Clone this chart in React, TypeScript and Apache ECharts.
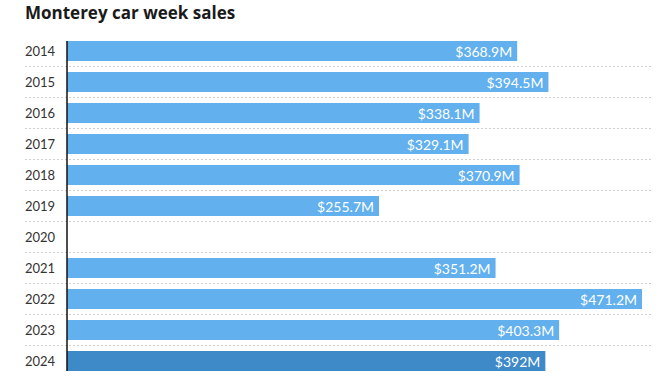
import React, { useEffect, useRef } from "react";
import * as echarts from "echarts";

const years = ["2014", "2015", "2016", "2017", "2018", "2019", "2020", "2021", "2022", "2023", "2024"];
const sales: (number | null)[] = [368.9, 394.5, 338.1, 329.1, 370.9, 255.7, null, 351.2, 471.2, 403.3, 392];
const highlightYear = "2024";

const LIGHT = "#62B0EE";
const DARK = "#3E89C8";
const FONT = "Lato, 'Open Sans', sans-serif";

export default function App() {
  const ref = useRef<HTMLDivElement>(null);
  useEffect(() => {
    if (!ref.current) return;
    const chart = echarts.init(ref.current, undefined, { renderer: "svg" });
    chart.setOption({
      animation: false,
      title: {
        text: "Monterey car week sales",
        left: 25,
        top: 4,
        padding: 0,
        textStyle: { fontFamily: "'Open Sans', sans-serif", fontSize: 17, fontWeight: "bold", color: "#1a1a1a" },
      },
      grid: [
        { left: 67, right: 18, top: 35.5, height: 341 },
        { left: 25, right: 7, top: 35.5, height: 341 },
      ],
      xAxis: [
        { type: "value", gridIndex: 0, min: 0, max: "dataMax", show: false },
        { type: "value", gridIndex: 1, min: 0, max: 1, show: false },
      ],
      yAxis: [
        {
          type: "category",
          gridIndex: 0,
          data: years,
          inverse: true,
          axisLine: { show: false },
          axisTick: { show: false },
          splitLine: { show: false },
          axisLabel: {
            align: "left",
            margin: 42,
            fontFamily: FONT,
            fontSize: 13,
            color: "#333",
          },
        },
        {
          type: "category",
          gridIndex: 1,
          data: years,
          inverse: true,
          axisLine: { show: false },
          axisTick: { show: false },
          axisLabel: { show: false },
          splitLine: {
            show: true,
            showMinLine: false,
            showMaxLine: false,
            lineStyle: { color: "#cfcfcf", type: [2, 2], width: 1 },
          },
        },
      ],
      series: [
        {
          type: "bar",
          xAxisIndex: 0,
          yAxisIndex: 0,
          barWidth: 20,
          data: sales.map((v, i) => ({
            value: v,
            itemStyle: { color: years[i] === highlightYear ? DARK : LIGHT },
          })),
          label: {
            show: true,
            position: "insideRight",
            distance: 5,
            color: "#fff",
            fontFamily: FONT,
            fontSize: 14,
            formatter: (p: any) => (p.value == null ? "" : "$" + p.value + "M"),
          },
        },
      ],
      graphic: [
        {
          type: "line",
          shape: { x1: 67, y1: 41, x2: 67, y2: 371 },
          style: { stroke: "#111", lineWidth: 1.5 },
          z: 10,
        },
      ],
    });
    return () => chart.dispose();
  }, []);
  return <div ref={ref} style={{ width: 660, height: 381, position: "absolute", left: 0, top: 0 }} />;
}
